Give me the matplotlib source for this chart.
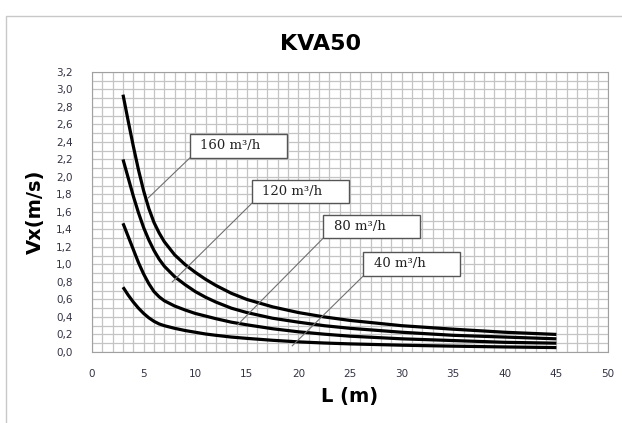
import matplotlib
matplotlib.use("Agg")
import matplotlib.pyplot as plt
from matplotlib.patches import Rectangle
from matplotlib.ticker import MultipleLocator, FuncFormatter

# values
L = [3, 3.5, 4, 4.5, 5, 5.5, 6, 6.5, 7, 8, 9, 10, 11, 12, 13.5, 15, 17.5, 20, 22.5,
     25, 30, 35, 40, 45]
v160 = [2.94, 2.64, 2.35, 2.08, 1.84, 1.64, 1.48, 1.36, 1.26, 1.11, 1.00, 0.91, 0.83,
        0.76, 0.67, 0.60, 0.515, 0.45, 0.40, 0.36, 0.30, 0.26, 0.225, 0.20]
v120 = [2.20, 1.99, 1.78, 1.59, 1.42, 1.28, 1.16, 1.06, 0.98, 0.86, 0.77, 0.69, 0.625,
        0.57, 0.50, 0.45, 0.385, 0.34, 0.30, 0.27, 0.225, 0.19, 0.17, 0.15]
v80 = [1.47, 1.32, 1.17, 1.02, 0.89, 0.78, 0.69, 0.63, 0.585, 0.525, 0.48, 0.44, 0.41,
       0.38, 0.34, 0.31, 0.265, 0.23, 0.203, 0.18, 0.15, 0.13, 0.11, 0.10]
v40 = [0.74, 0.65, 0.57, 0.50, 0.44, 0.39, 0.35, 0.32, 0.30, 0.27, 0.245, 0.225, 0.205,
       0.19, 0.17, 0.155, 0.133, 0.115, 0.102, 0.092, 0.077, 0.066, 0.057, 0.05]
labels = ["160 m³/h", "120 m³/h", "80 m³/h", "40 m³/h"]

fig = plt.figure(figsize=(6.22, 4.23), dpi=100)
ax = fig.add_axes([0.148, 0.168, 0.8295, 0.662])

# outer chart frame (left and top edges visible)
fig.patches.append(Rectangle((6 / 622, -0.1), 1.2, (423 - 16) / 423 + 0.1,
                             transform=fig.transFigure, fill=False,
                             edgecolor="#c8c8c8", linewidth=1))

for ys in [v160, v120, v80, v40]:
    ax.plot(L, ys, color="black", linewidth=2.3, solid_capstyle="butt",
            solid_joinstyle="round", zorder=3)

ax.set_xlim(0, 50)
ax.set_ylim(0, 3.2)
ax.xaxis.set_major_locator(MultipleLocator(5))
ax.xaxis.set_minor_locator(MultipleLocator(1))
ax.yaxis.set_major_locator(MultipleLocator(0.2))
ax.yaxis.set_minor_locator(MultipleLocator(0.1))
ax.yaxis.set_major_formatter(FuncFormatter(lambda v, p: f"{v:.1f}".replace(".", ",")))
ax.grid(which="both", color="#c4c4c4", linewidth=0.9)
ax.set_axisbelow(True)
ax.tick_params(which="both", length=0, labelsize=7.5, labelcolor="#333344")
ax.tick_params(axis="x", pad=12)
ax.tick_params(axis="y", pad=14)
for s in ax.spines.values():
    s.set_color("#a0a0a0")

ax.set_xlabel("L (m)", fontsize=14, fontweight="bold", labelpad=6)
ax.set_ylabel("Vx(m/s)", fontsize=14, fontweight="bold", labelpad=8)
fig.text(0.515, 0.897, "KVA50", ha="center", va="center", fontsize=16, fontweight="bold")

# callout boxes: (box left x, box bottom y, leader end x, leader end y) in data units
boxes = [(9.5, 2.22, 5.44, 1.76), (15.5, 1.70, 7.77, 0.80),
         (22.4, 1.30, 14.1, 0.31), (26.3, 0.87, 19.4, 0.07)]
bw, bh = 9.4, 0.27
for (bx, by, ex, ey), lab in zip(boxes, labels):
    ax.plot([bx, ex], [by, ey], color="#707070", linewidth=0.8, zorder=4)
    ax.add_patch(Rectangle((bx, by), bw, bh, facecolor="white", edgecolor="#555555",
                           linewidth=1, zorder=5))
    ax.text(bx + 1.0, by + bh / 2, lab, family="DejaVu Serif", fontsize=9.5,
            va="center", ha="left", color="#222222", zorder=6)

fig.savefig("out.png", dpi=100)
